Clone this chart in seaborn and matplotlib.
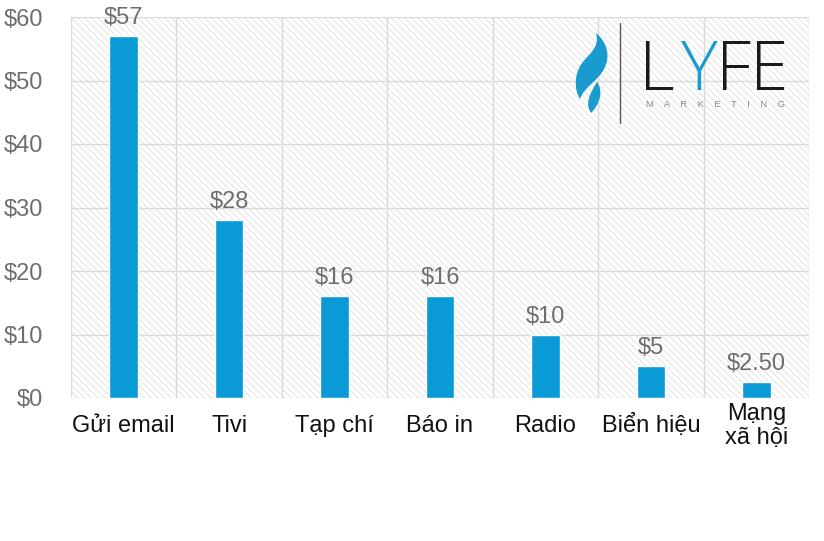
import matplotlib
matplotlib.use("Agg")
import matplotlib.pyplot as plt
import seaborn as sns
import pandas as pd
from matplotlib.patches import Rectangle, PathPatch
from matplotlib.path import Path

categories = ["Gửi email", "Tivi", "Tạp chí", "Báo in", "Radio", "Biển hiệu", "Mạng\nxã hội"]
values = [57, 28, 16, 16, 10, 5, 2.5]
value_labels = ["$57", "$28", "$16", "$16", "$10", "$5", "$2.50"]
yticks = [0, 10, 20, 30, 40, 50, 60]
ytick_labels = ["$0", "$10", "$20", "$30", "$40", "$50", "$60"]

sns.set_theme(style="white")
plt.rcParams['font.family'] = ['Liberation Sans', 'DejaVu Sans']
plt.rcParams['hatch.linewidth'] = 0.5
plt.rcParams['hatch.color'] = '#d8d8d8'

df = pd.DataFrame({"cat": categories, "val": values})

fig = plt.figure(figsize=(8.24, 5.41), dpi=100)
ax = fig.add_axes([71/824, 1-398/541, (809-71)/824, (398-17)/541])

# hatched background
bg = Rectangle((0, 0), 1, 1, transform=ax.transAxes, facecolor='white',
               edgecolor='#d8d8d8', hatch='\\\\\\\\\\', lw=0, zorder=0)
ax.add_patch(bg)

sns.barplot(data=df, x="cat", y="val", color="#0A9AD6", width=0.27,
            saturation=1, ax=ax, zorder=3)

ax.set_xlim(-0.5, len(categories) - 0.5)
ax.set_ylim(0, 60)
ax.set_yticks(yticks)
ax.set_yticklabels(ytick_labels, color='#6e6e6e', fontsize=17)
ax.set_xticks(range(len(categories)))
ax.set_xticklabels(categories, fontsize=17, color='#111111', linespacing=1.15)
ax.tick_params(axis='x', length=0, pad=20)
ax.tick_params(axis='y', length=0, pad=20)
for lbl in ax.get_xticklabels():
    lbl.set_verticalalignment('center')
ax.set_xlabel("")
ax.set_ylabel("")

# grid
for y in yticks:
    ax.axhline(y, color='#dadada', lw=1, zorder=1)
for i in range(len(categories) + 1):
    ax.axvline(i - 0.5, color='#dadada', lw=1, zorder=1)
for s in ax.spines.values():
    s.set_visible(False)

ax.bar_label(ax.containers[0], labels=value_labels, padding=5, fontsize=17, color='#6e6e6e')

# Logo
def fx(x): return x/824
def fy(y): return 1-y/541

fig.add_artist(plt.Line2D([fx(620), fx(620)], [fy(23), fy(123)], color='#555555', lw=1))
logo_kw = dict(fontsize=50, family='Open Sans', weight='light', va='baseline', ha='center')
fig.text(fx(657), fy(90), "L", color='#1a1a1a', **logo_kw)
fig.text(fx(699), fy(90), "Y", color='#1a9bd0', **logo_kw)
fig.text(fx(733), fy(90), "F", color='#1a1a1a', **logo_kw)
fig.text(fx(769), fy(90), "E", color='#1a1a1a', **logo_kw)
fig.text(fx(716), fy(107), "M    A    R    K    E    T    I    N    G", fontsize=6.8, color='#888888',
         va='baseline', ha='center')

# flame shape
M, C, Z = Path.MOVETO, Path.CURVE4, Path.CLOSEPOLY
v1 = [(596, 33),
      (607, 42), (611, 56), (604, 69),
      (598, 81), (584, 87), (580, 99),
      (574, 90), (574, 74), (582, 63),
      (590, 53), (600, 47), (596, 33),
      (596, 33)]
c1 = [M, C, C, C, C, C, C, C, C, C, C, C, C, Z]
fig.add_artist(PathPatch(Path([(fx(x), fy(y)) for x, y in v1], c1),
                         transform=fig.transFigure, color='#1a9bd0', lw=0))
v2 = [(597, 82),
      (603, 90), (601, 103), (591, 113),
      (585, 104), (589, 95), (597, 82),
      (597, 82)]
c2 = [M, C, C, C, C, C, C, Z]
fig.add_artist(PathPatch(Path([(fx(x), fy(y)) for x, y in v2], c2),
                         transform=fig.transFigure, color='#1a9bd0', lw=0))

fig.savefig("out.png", dpi=100, facecolor='white')
